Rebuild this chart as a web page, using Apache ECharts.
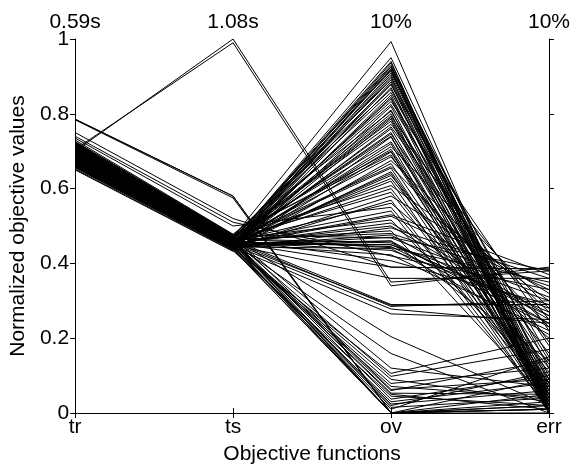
<!DOCTYPE html>
<html><head><meta charset="utf-8">
<script src="https://cdn.jsdelivr.net/npm/echarts@6/dist/echarts.min.js"></script>
<style>html,body{margin:0;padding:0;background:#fff}#c{width:573px;height:470px}</style>
</head><body><div id="c"></div>
<script>
var categories = ['tr', 'ts', 'ov', 'err'];
var topLabels = ['0.59s', '1.08s', '10%', '10%'];
var yTicks = [0, 0.2, 0.4, 0.6, 0.8, 1];

var trVals = [0.715,0.70,0.695,0.705,0.68,0.675,0.67,0.72,0.685,0.66,0.71,0.665,0.70,0.655,0.73,0.69,0.67,0.712,0.683,0.697,
  0.65,0.718,0.688,0.672,0.703,0.678,0.708,0.662,0.692,0.722,0.668,0.698,0.682,0.713,0.687,0.658,0.702,0.677,0.725,0.673,
  0.693,0.711,0.684,0.706,0.689,0.699,0.681,0.669,0.714,0.691,0.663,0.704,0.679,0.671,0.719,0.694,0.652,0.701,0.686,0.674,
  0.661,0.696,0.676,0.785,0.786,0.784,0.70,0.705,0.75,0.74,0.735,0.707,0.69,0.682,0.716,0.667,0.70,0.694,0.721,0.68,
  0.703,0.689,0.709,0.684,0.698,0.671,0.692,0.659,0.706,0.678,
  0.702,0.681,0.712,0.693,0.666,0.723,0.685,0.699,0.664,0.691,0.717,0.673,0.704,0.679,0.688,0.726,0.657,0.701,0.683,0.695,
  0.71,0.67,0.697,0.687,0.69,0.708,0.676,0.668,0.694,0.7,0.684,0.714,0.66,0.703,0.69,0.68,0.705];
var tsVals = [0.47,0.46,0.455,0.465,0.45,0.448,0.445,0.472,0.452,0.44,0.467,0.446,0.46,0.437,0.478,0.456,0.444,0.468,0.451,0.458,
  0.432,0.47,0.454,0.443,0.461,0.449,0.464,0.441,0.457,0.474,0.442,0.459,0.45,0.466,0.453,0.439,0.462,0.447,0.476,0.444,
  0.456,0.466,0.451,0.463,0.453,0.459,0.449,0.443,0.468,0.455,0.44,0.462,0.448,0.444,0.471,0.457,0.434,0.46,0.452,0.445,
  0.438,0.458,0.447,0.58,0.58,0.575,1.00,0.99,0.52,0.51,0.50,0.463,0.455,0.45,0.469,0.442,0.46,0.456,0.473,0.449,
  0.461,0.454,0.465,0.451,0.458,0.444,0.456,0.438,0.463,0.448,
  0.46,0.45,0.467,0.456,0.441,0.475,0.452,0.459,0.439,0.455,0.469,0.445,0.462,0.448,0.453,0.477,0.436,0.46,0.451,0.457,
  0.466,0.443,0.458,0.452,0.455,0.464,0.447,0.442,0.457,0.46,0.451,0.468,0.437,0.461,0.455,0.449,0.463];
var ovVals = [0.993,0.95,0.936,0.926,0.918,0.91,0.90,0.89,0.878,0.87,0.857,0.844,0.833,0.82,0.807,0.794,0.786,0.772,0.76,0.746,
  0.738,0.725,0.712,0.698,0.685,0.667,0.659,0.645,0.627,0.608,0.569,0.561,0.526,0.516,0.508,0.495,0.487,0.476,0.468,0.46,
  0.45,0.442,0.423,0.407,0.288,0.285,0.278,0.265,0.204,0.159,0.106,0.098,0.079,0.071,0.063,0.053,0.045,0.037,0.024,0.00,
  0.00,0.00,0.00,0.00,0.00,0.00,0.35,0.34,0.39,0.42,0.55,0.93,0.92,0.905,0.88,0.85,0.80,0.75,0.70,0.64,
  0.60,0.46,0.455,0.45,0.445,0.44,0.435,0.03,0.015,0.01,
  0.94,0.925,0.915,0.895,0.885,0.865,0.84,0.825,0.81,0.79,0.78,0.765,0.74,0.72,0.705,0.69,0.675,0.655,0.635,0.62,
  0.59,0.58,0.54,0.53,0.50,0.48,0.47,0.02,0.05,0.06,0.09,0.12,0.00,0.00,0.39,0.36,0.29];
var errVals = [0.02,0.05,0.01,0.08,0.03,0.12,0.00,0.06,0.15,0.02,0.10,0.04,0.22,0.01,0.07,0.18,0.03,0.25,0.05,0.13,
  0.00,0.09,0.28,0.02,0.16,0.04,0.23,0.06,0.11,0.30,0.01,0.20,0.33,0.08,0.26,0.36,0.03,0.24,0.31,0.14,
  0.27,0.35,0.22,0.29,0.29,0.30,0.24,0.25,0.02,0.00,0.20,0.17,0.12,0.04,0.09,0.05,0.02,0.10,0.06,0.03,
  0.01,0.05,0.02,0.01,0.02,0.01,0.38,0.39,0.385,0.33,0.05,0.04,0.00,0.07,0.01,0.03,0.00,0.02,0.05,0.01,
  0.07,0.23,0.26,0.30,0.24,0.21,0.28,0.08,0.04,0.15,
  0.00,0.03,0.01,0.09,0.02,0.05,0.00,0.14,0.02,0.06,0.01,0.19,0.03,0.00,0.08,0.04,0.27,0.02,0.12,0.00,
  0.05,0.32,0.01,0.37,0.25,0.34,0.38,0.11,0.01,0.14,0.03,0.07,0.00,0.09,0.385,0.36,0.29];

var series = [];
for (var i = 0; i < trVals.length; i++) {
  series.push({
    type: 'line', silent: true, symbol: 'none', animation: false,
    lineStyle: { color: '#000', width: 1 },
    data: [trVals[i], tsVals[i], ovVals[i], errVals[i]]
  });
}
var font = 'Liberation Sans, Arial, sans-serif';
var fs = 21;
var chart = echarts.init(document.getElementById('c'), null, { renderer: 'canvas' });
chart.setOption({
  animation: false,
  grid: { left: 70, right: 23, top: 39, bottom: 54, containLabel: false },
  xAxis: [{
    type: 'category', data: categories, boundaryGap: false, position: 'bottom',
    name: 'Objective functions', nameLocation: 'middle', nameGap: 31,
    nameTextStyle: { color: '#000', fontSize: fs, fontFamily: font },
    axisLine: { lineStyle: { color: '#000', width: 1 } },
    axisTick: { show: true, length: 5, lineStyle: { color: '#000' } },
    axisLabel: { color: '#000', fontSize: fs, fontFamily: font, margin: 4 },
    splitLine: { show: false }
  }, {
    type: 'category', data: topLabels, boundaryGap: false, position: 'top',
    axisLine: { lineStyle: { color: '#000', width: 1 } },
    axisTick: { show: true, length: 5, lineStyle: { color: '#000' } },
    axisLabel: { color: '#000', fontSize: fs, fontFamily: font, margin: 6 },
    splitLine: { show: false }
  }],
  yAxis: [{
    type: 'value', min: 0, max: 1, interval: 0.2, position: 'left',
    name: 'Normalized objective values', nameLocation: 'middle', nameGap: 40,
    nameTextStyle: { color: '#000', fontSize: fs, fontFamily: font },
    axisLine: { show: true, lineStyle: { color: '#000', width: 1 } },
    axisTick: { show: true, length: 5, lineStyle: { color: '#000' } },
    axisLabel: { color: '#000', fontSize: fs, fontFamily: font, margin: 6,
      formatter: function (v) { return String(+v.toFixed(1)); } },
    splitLine: { show: false }
  }, {
    type: 'value', min: 0, max: 1, interval: 0.2, position: 'right',
    axisLine: { show: true, lineStyle: { color: '#000', width: 1 } },
    axisTick: { show: true, length: 5, lineStyle: { color: '#000' } },
    axisLabel: { show: false },
    splitLine: { show: false }
  }],
  series: series
});
</script></body></html>
